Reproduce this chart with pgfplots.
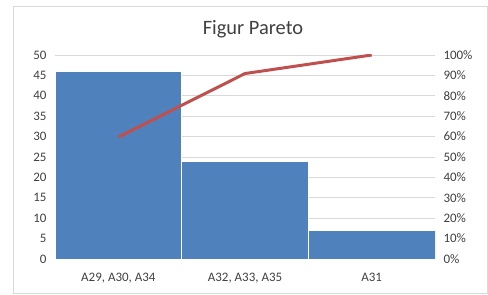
\documentclass[border=0pt]{standalone}
\usepackage{pgfplots}
\pgfplotsset{compat=1.18}
\usepackage{fontspec}
\setmainfont{Carlito}
\definecolor{barblue}{HTML}{4F81BD}
\definecolor{linered}{HTML}{C0504D}
\definecolor{gridgray}{HTML}{D9D9D9}
\definecolor{textgray}{HTML}{404040}
\begin{document}
\begin{tikzpicture}[x=1bp,y=1bp]
\path[use as bounding box] (0,0) rectangle (488,294);
\draw[gridgray, line width=0.75bp] (13.5,1) rectangle (487.5,288);
\node[anchor=base, font=\fontsize{20.5}{24}\selectfont, text=textgray, inner sep=0pt] at (253,260) {Figur Pareto};
\begin{axis}[
  at={(55bp,35bp)}, anchor=south west,
  scale only axis, width=380bp, height=204bp,
  xmin=-0.5, xmax=2.5, ymin=0, ymax=50,
  ytick={0,5,...,50},
  xtick={0,1,2},
  xticklabels={{A29, A30, A34},{A32, A33, A35},{A31}},
  ymajorgrids,
  grid style={gridgray, line width=0.75bp},
  axis x line*=bottom, axis y line*=left,
  x axis line style={gridgray, line width=0.75bp},
  y axis line style={draw=none},
  major tick length=0pt,
  /pgf/number format/assume math mode=true,
  tick label style={font=\fontsize{13}{15}\selectfont, text=textgray},
  yticklabel style={xshift=-5bp},
  xticklabel style={yshift=-11bp},
]
\addplot[ybar, bar width=1, fill=barblue, draw=white, line width=0.75bp] coordinates {(0,46) (1,24) (2,7)};
\end{axis}
\begin{axis}[
  at={(55bp,35bp)}, anchor=south west,
  scale only axis, width=380bp, height=204bp,
  xmin=-0.5, xmax=2.5, ymin=0, ymax=100,
  ytick={0,10,...,100},
  yticklabel={\pgfmathprintnumber{\tick}\%},
  axis y line*=right,
  hide x axis,
  y axis line style={draw=none},
  major tick length=0pt,
  /pgf/number format/assume math mode=true,
  tick label style={font=\fontsize{13}{15}\selectfont, text=textgray},
  yticklabel style={xshift=5bp},
]
\addplot[linered, line width=3bp] coordinates {(0,59.74) (1,90.91) (2,100)};
\end{axis}
\end{tikzpicture}
\end{document}
